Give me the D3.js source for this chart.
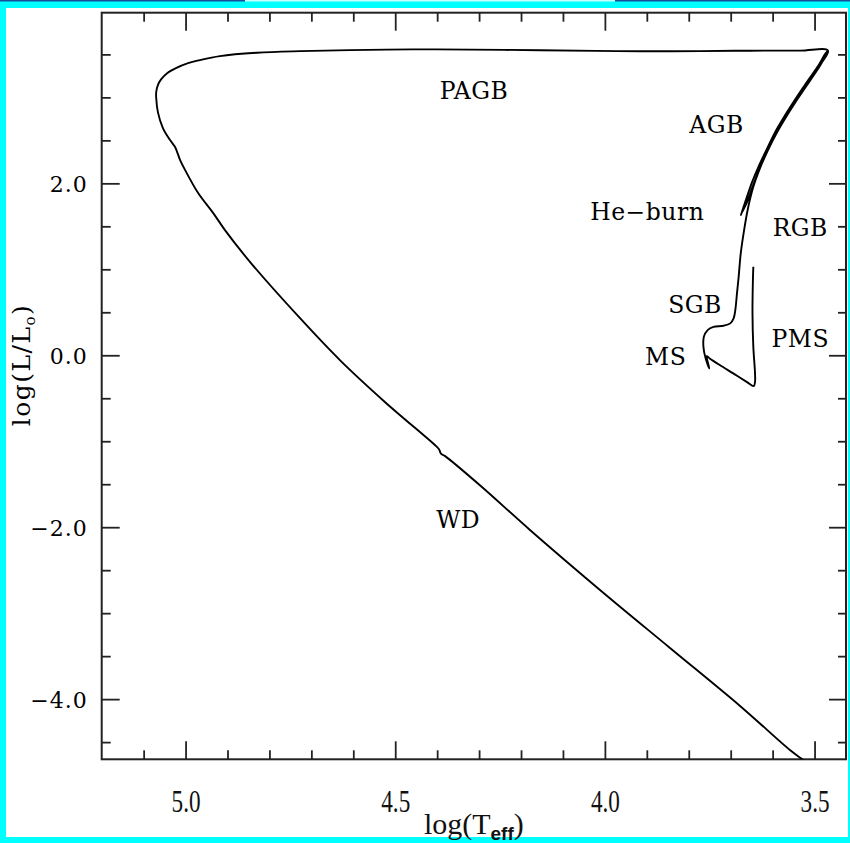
<!DOCTYPE html>
<html>
<head>
<meta charset="utf-8">
<script src="https://cdn.jsdelivr.net/npm/d3@7"></script>
<style>
html, body { margin: 0; padding: 0; background: #00ffff; }
svg { display: block; }
</style>
</head>
<body>
<svg id="hrd" width="850" height="843"></svg>
<script>
// evolutionary track, log(Teff) / log(L/Lsun), one array pair per phase
const pmsTeff = [3.646, 3.647, 3.648, 3.646, 3.642, 3.642, 3.645, 3.661, 3.694, 3.726, 3.750, 3.757];
const pmsLum  = [1.029, 0.874, 0.490, 0.098, -0.208, -0.312, -0.359, -0.312, -0.211, -0.114, -0.037, -0.010];

const msTeff = [3.751, 3.760, 3.765, 3.764, 3.755, 3.741, 3.717, 3.701];
const msLum  = [-0.153, -0.033, 0.098, 0.215, 0.293, 0.331, 0.343, 0.371];

const rgbTeff = [3.693, 3.689, 3.685, 3.681, 3.676, 3.668, 3.658, 3.646, 3.630, 3.611, 3.589, 3.565, 3.539, 3.510, 3.486, 3.468];
const rgbLum  = [0.429, 0.525, 0.720, 0.913, 1.185, 1.456, 1.727, 1.960, 2.177, 2.387, 2.596, 2.794, 2.992, 3.201, 3.376, 3.544];

const heTeff = [3.475, 3.490, 3.515, 3.544, 3.570, 3.594, 3.615, 3.633, 3.649, 3.663, 3.676];
const heLum  = [3.503, 3.376, 3.201, 2.992, 2.794, 2.596, 2.387, 2.201, 2.014, 1.817, 1.630];

const agbTeff = [3.673, 3.662, 3.648, 3.631, 3.613, 3.591, 3.568, 3.541, 3.513, 3.489, 3.468];
const agbLum  = [1.665, 1.770, 1.956, 2.171, 2.375, 2.584, 2.782, 2.980, 3.189, 3.364, 3.544];

const pagbTeff = [3.534, 3.653, 3.773, 3.916, 4.021, 4.154, 4.321, 4.460, 4.608, 4.727, 4.830, 4.918, 4.966, 4.994, 5.023, 5.044, 5.058, 5.066, 5.070, 5.070, 5.066, 5.054, 5.037, 5.025, 5.013, 5.001, 4.970, 4.934, 4.906];
const pagbLum  = [3.544, 3.543, 3.538, 3.536, 3.541, 3.548, 3.556, 3.558, 3.550, 3.538, 3.519, 3.480, 3.434, 3.399, 3.341, 3.282, 3.212, 3.143, 3.061, 2.992, 2.829, 2.643, 2.503, 2.422, 2.271, 2.154, 1.887, 1.654, 1.456];

const wdTeff = [4.846, 4.727, 4.632, 4.524, 4.400, 4.395, 4.391, 4.381, 4.298, 4.178, 4.011, 3.844, 3.677, 3.558, 3.529, 3.498];
const wdLum  = [1.084, 0.431, -0.056, -0.546, -1.069, -1.098, -1.144, -1.173, -1.512, -2.035, -2.733, -3.408, -4.082, -4.595, -4.700, -4.805];

// phase labels
const phaseNames = ["PAGB", "AGB", "He\u2212burn", "RGB", "SGB", "PMS", "MS", "WD"];
const phaseTeff  = [4.312, 3.734, 3.899, 3.534, 3.785, 3.534, 3.855, 4.350];
const phaseLum   = [2.980, 2.584, 1.573, 1.386, 0.490, 0.095, -0.115, -2.011];

// ticks
const xMajor = [5.0, 4.5, 4.0, 3.5];
const xMinor = [5.1, 4.9, 4.8, 4.7, 4.6, 4.4, 4.3, 4.2, 4.1, 3.9, 3.8, 3.7, 3.6];
const yMajor = [2.0, 0.0, -2.0, -4.0];
const yMinor = [3.5, 3.0, 2.5, 1.5, 1.0, 0.5, -0.5, -1.0, -1.5, -2.5, -3.0, -3.5, -4.5];

const pL = 101.7, pR = 846, pT = 12.7, pB = 759.3;

const svg = d3.select("#hrd");

// page border
svg.append("rect").attr("x", 6).attr("y", 8).attr("width", 842).attr("height", 829).attr("fill", "#fff");
svg.append("rect").attr("x", 0).attr("y", 0).attr("width", 245).attr("height", 1.5).attr("fill", "#1a4c9c");
svg.append("rect").attr("x", 615).attr("y", 0).attr("width", 235).attr("height", 1.5).attr("fill", "#1a4c9c");
svg.append("rect").attr("x", 245).attr("y", 0).attr("width", 370).attr("height", 1.5).attr("fill", "#c8ffff");

const x = d3.scaleLinear().domain([5.2, 3.425]).range([pL, pR]);
const y = d3.scaleLinear().domain([-4.7, 3.985]).range([pB, pT]);

const fmt = d => d3.format(".1f")(d).replace("-", "\u2212");

function styleAxis(g) {
    g.select(".domain").remove();
    g.selectAll(".tick line").attr("stroke", "#222").attr("stroke-width", 1.8);
}

// bottom
svg.append("g").attr("transform", `translate(0,${pB})`)
    .call(d3.axisBottom(x).tickValues(xMajor).tickSize(-18).tickPadding(30).tickFormat(d3.format(".1f")))
    .call(styleAxis)
    .call(g => g.selectAll("text")
        .attr("font-family", "Liberation Serif").attr("font-size", 32).attr("fill", "#111")
        .attr("textLength", 29).attr("lengthAdjust", "spacingAndGlyphs"));
svg.append("g").attr("transform", `translate(0,${pB})`)
    .call(d3.axisBottom(x).tickValues(xMinor).tickSize(-9).tickFormat(""))
    .call(styleAxis);
// top
svg.append("g").attr("transform", `translate(0,${pT})`)
    .call(d3.axisTop(x).tickValues(xMajor).tickSize(-18).tickFormat(""))
    .call(styleAxis);
svg.append("g").attr("transform", `translate(0,${pT})`)
    .call(d3.axisTop(x).tickValues(xMinor).tickSize(-9).tickFormat(""))
    .call(styleAxis);
// left
svg.append("g").attr("transform", `translate(${pL},0)`)
    .call(d3.axisLeft(y).tickValues(yMajor).tickSize(-18).tickPadding(14).tickFormat(fmt))
    .call(styleAxis)
    .call(g => g.selectAll("text")
        .attr("font-family", "DejaVu Serif").attr("font-size", 22).attr("fill", "#000")
        .attr("letter-spacing", 1).attr("dy", "0.36em"));
svg.append("g").attr("transform", `translate(${pL},0)`)
    .call(d3.axisLeft(y).tickValues(yMinor).tickSize(-9).tickFormat(""))
    .call(styleAxis);
// right
svg.append("g").attr("transform", `translate(${pR},0)`)
    .call(d3.axisRight(y).tickValues(yMajor).tickSize(-17).tickFormat(""))
    .call(styleAxis);
svg.append("g").attr("transform", `translate(${pR},0)`)
    .call(d3.axisRight(y).tickValues(yMinor).tickSize(-8).tickFormat(""))
    .call(styleAxis);

// frame
svg.append("rect")
    .attr("x", pL).attr("y", pT)
    .attr("width", pR - pL).attr("height", pB - pT)
    .attr("fill", "none").attr("stroke", "#222").attr("stroke-width", 2);

svg.append("clipPath").attr("id", "plotclip")
    .append("rect").attr("x", pL).attr("y", pT)
    .attr("width", pR - pL).attr("height", pB - pT);

// the track, phase after phase
const teff = [].concat(pmsTeff, msTeff, rgbTeff, heTeff, agbTeff, pagbTeff, wdTeff);
const lum  = [].concat(pmsLum, msLum, rgbLum, heLum, agbLum, pagbLum, wdLum);
const track = teff.map((t, i) => [t, lum[i]]);

const line = d3.line()
    .x(d => x(d[0]))
    .y(d => y(d[1]))
    .curve(d3.curveCatmullRom.alpha(0.5));

svg.append("path")
    .datum(track)
    .attr("clip-path", "url(#plotclip)")
    .attr("d", line)
    .attr("fill", "none")
    .attr("stroke", "#000")
    .attr("stroke-width", 1.9)
    .attr("stroke-linejoin", "round");

// labels
svg.append("g").selectAll("text")
    .data(phaseNames)
    .join("text")
    .attr("x", (d, i) => x(phaseTeff[i]))
    .attr("y", (d, i) => y(phaseLum[i]))
    .attr("text-anchor", "middle")
    .attr("font-family", "DejaVu Serif")
    .attr("font-size", 23.5)
    .attr("letter-spacing", 0.5)
    .attr("fill", "#000")
    .text(d => d);

// axis titles
const xt = svg.append("text")
    .attr("x", (pL + pR) / 2).attr("y", 834)
    .attr("text-anchor", "middle")
    .attr("font-family", "Liberation Serif").attr("font-size", 30).attr("fill", "#111");
xt.append("tspan").text("log(T");
xt.append("tspan").attr("font-size", 19).attr("font-family", "Liberation Sans").attr("font-weight", "bold").attr("dy", 6).text("eff");
xt.append("tspan").attr("dy", -6).text(")");

const yt = svg.append("text")
    .attr("transform", `translate(30,365) rotate(-90)`)
    .attr("text-anchor", "middle")
    .attr("font-family", "DejaVu Serif").attr("font-size", 25).attr("letter-spacing", 1.5).attr("fill", "#000");
yt.append("tspan").text("log(L/L");
yt.append("tspan").attr("font-size", 15).attr("dy", 5).text("o");
yt.append("tspan").attr("dy", -5).text(")");
</script>
</body>
</html>
